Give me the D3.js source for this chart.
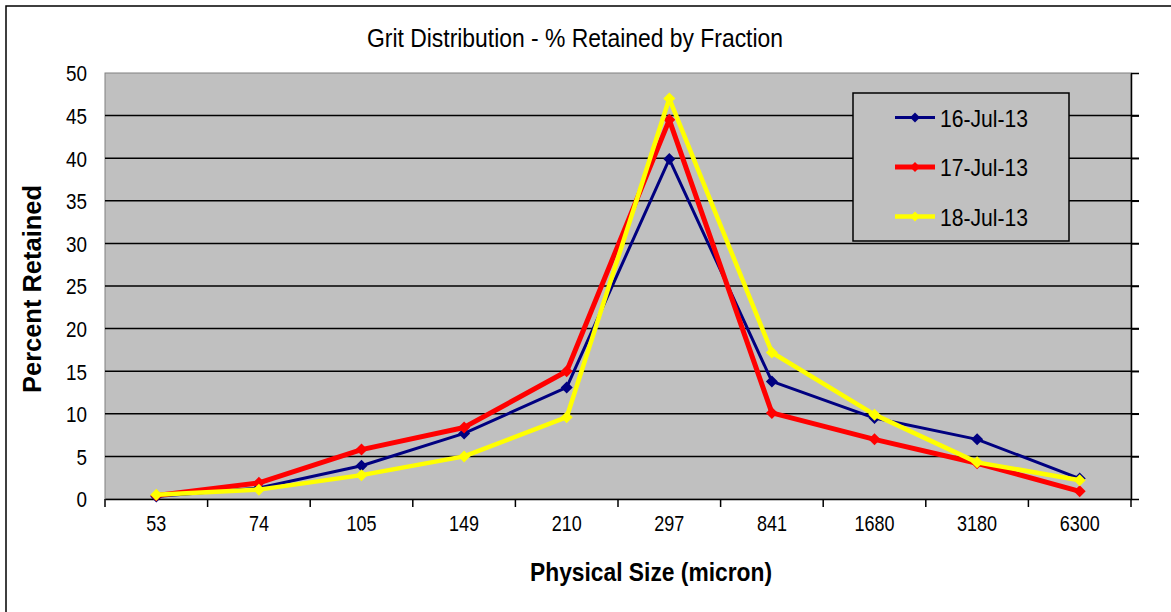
<!DOCTYPE html>
<html>
<head>
<meta charset="utf-8">
<script src="https://cdn.jsdelivr.net/npm/d3@7"></script>
<style>
  html, body { margin: 0; padding: 0; background: #fff; }
  svg { display: block; font-family: "Liberation Sans", Arial, sans-serif; }
</style>
</head>
<body>
<svg id="chart" width="1171" height="612"></svg>
<script>
// Sieve fractions (micron) and percent retained per sampling day
const categories = ["53", "74", "105", "149", "210", "297", "841", "1680", "3180", "6300"];
const jul16 = [0.3, 1.3, 3.9, 7.7, 13.1, 39.9, 13.8, 9.5, 7.0, 2.4];
const jul17 = [0.4, 1.9, 5.8, 8.4, 15.0, 44.5, 10.1, 7.0, 4.2, 0.9];
const jul18 = [0.5, 1.1, 2.8, 5.0, 9.6, 47.0, 17.2, 9.9, 4.3, 2.2];
const seriesNames = ["16-Jul-13", "17-Jul-13", "18-Jul-13"];
const yTicks = [0, 5, 10, 15, 20, 25, 30, 35, 40, 45, 50];

const series = [
  { name: seriesNames[0], values: jul16, color: "#000080", width: 3 },
  { name: seriesNames[1], values: jul17, color: "#ff0000", width: 5 },
  { name: seriesNames[2], values: jul18, color: "#ffff00", width: 4.5 }
];

const svg = d3.select("#chart");
const plot = { left: 105, right: 1131, top: 73, bottom: 499 };

const x = d3.scaleBand().domain(categories).range([plot.left, plot.right]);
const y = d3.scaleLinear().domain([0, 50]).range([plot.bottom, plot.top]);
const cx = c => x(c) + x.bandwidth() / 2;

// outer chart frame
svg.append("rect")
  .attr("x", 6).attr("y", 6).attr("width", 1250).attr("height", 700)
  .attr("fill", "#fff").attr("stroke", "#000").attr("stroke-width", 1.5);

// plot area
svg.append("rect")
  .attr("x", plot.left).attr("y", plot.top)
  .attr("width", plot.right - plot.left).attr("height", plot.bottom - plot.top)
  .attr("fill", "#c0c0c0").attr("stroke", "#808080").attr("stroke-width", 1);

// horizontal gridlines
svg.append("g").selectAll("line")
  .data(yTicks.filter(t => t > 0 && t < 50))
  .join("line")
  .attr("x1", plot.left).attr("x2", plot.right + 8)
  .attr("y1", d => y(d)).attr("y2", d => y(d))
  .attr("stroke", "#000").attr("stroke-width", 1.5);

// value axis drawn on the right edge, outward ticks
const rightAxis = svg.append("g")
  .attr("transform", `translate(${plot.right},0)`)
  .call(d3.axisRight(y).tickValues(yTicks).tickSize(8).tickSizeOuter(0).tickFormat(""));
rightAxis.selectAll("line").attr("stroke", "#000").attr("stroke-width", 1.5);
rightAxis.select(".domain").attr("stroke", "#000").attr("stroke-width", 1.5);

// value labels on the left
const leftAxis = svg.append("g")
  .attr("transform", `translate(${plot.left},0)`)
  .call(d3.axisLeft(y).tickValues(yTicks).tickSize(0).tickPadding(18));
leftAxis.select(".domain").remove();
leftAxis.selectAll("text")
  .attr("font-family", "'Liberation Sans', Arial, sans-serif")
  .attr("font-size", 22).attr("fill", "#000")
  .attr("dy", "0.36em")
  .attr("textLength", d => String(d).length * 10.5)
  .attr("lengthAdjust", "spacingAndGlyphs");

// category axis
const bottomAxis = svg.append("g")
  .attr("transform", `translate(0,${plot.bottom})`)
  .call(d3.axisBottom(x).tickSize(0).tickPadding(16));
bottomAxis.select(".domain").attr("stroke", "#000").attr("stroke-width", 1.5);
bottomAxis.selectAll("text")
  .attr("font-family", "'Liberation Sans', Arial, sans-serif")
  .attr("font-size", 22).attr("fill", "#000")
  .attr("textLength", d => String(d).length * 10)
  .attr("lengthAdjust", "spacingAndGlyphs");

// tick marks between categories
const boundaries = categories.map(c => x(c)).concat([plot.right]);
svg.append("g").selectAll("line")
  .data(boundaries)
  .join("line")
  .attr("x1", d => d).attr("x2", d => d)
  .attr("y1", plot.bottom).attr("y2", plot.bottom + 8)
  .attr("stroke", "#000").attr("stroke-width", 1.5);

// series lines and diamond markers
const line = d3.line().x((d, i) => cx(categories[i])).y(d => y(d));
const diamond = r => `M0,${-r}L${r},0L0,${r}L${-r},0Z`;

series.forEach(s => {
  const g = svg.append("g");
  g.append("path")
    .attr("d", line(s.values))
    .attr("fill", "none")
    .attr("stroke", s.color)
    .attr("stroke-width", s.width)
    .attr("stroke-linejoin", "round");
  g.selectAll("path.m")
    .data(s.values)
    .join("path")
    .attr("class", "m")
    .attr("d", diamond(6))
    .attr("transform", (d, i) => `translate(${cx(categories[i])},${y(d)})`)
    .attr("fill", s.color);
});

// legend
const legend = svg.append("g");
legend.append("rect")
  .attr("x", 853).attr("y", 93).attr("width", 216).attr("height", 148)
  .attr("fill", "#c0c0c0").attr("stroke", "#000").attr("stroke-width", 1.5);
series.forEach((s, i) => {
  const ly = 117.5 + i * 49.5;
  legend.append("line")
    .attr("x1", 895).attr("x2", 935).attr("y1", ly).attr("y2", ly)
    .attr("stroke", s.color).attr("stroke-width", s.width);
  legend.append("path")
    .attr("d", diamond(5))
    .attr("transform", `translate(915,${ly})`)
    .attr("fill", s.color);
  legend.append("text")
    .attr("x", 940).attr("y", ly + 9)
    .attr("font-size", 24).attr("fill", "#000")
    .attr("textLength", 88).attr("lengthAdjust", "spacingAndGlyphs")
    .text(s.name);
});

// chart title
svg.append("text")
  .attr("x", 367).attr("y", 47)
  .attr("font-size", 25).attr("fill", "#000")
  .attr("textLength", 416).attr("lengthAdjust", "spacingAndGlyphs")
  .text("Grit Distribution - % Retained by Fraction");

// axis titles
svg.append("text")
  .attr("x", 530).attr("y", 581)
  .attr("font-size", 25).attr("font-weight", "bold").attr("fill", "#000")
  .attr("textLength", 242).attr("lengthAdjust", "spacingAndGlyphs")
  .text("Physical Size (micron)");

svg.append("text")
  .attr("transform", "translate(41,289) rotate(-90)")
  .attr("text-anchor", "middle")
  .attr("font-size", 25).attr("font-weight", "bold").attr("fill", "#000")
  .attr("textLength", 208).attr("lengthAdjust", "spacingAndGlyphs")
  .text("Percent Retained");
</script>
</body>
</html>
